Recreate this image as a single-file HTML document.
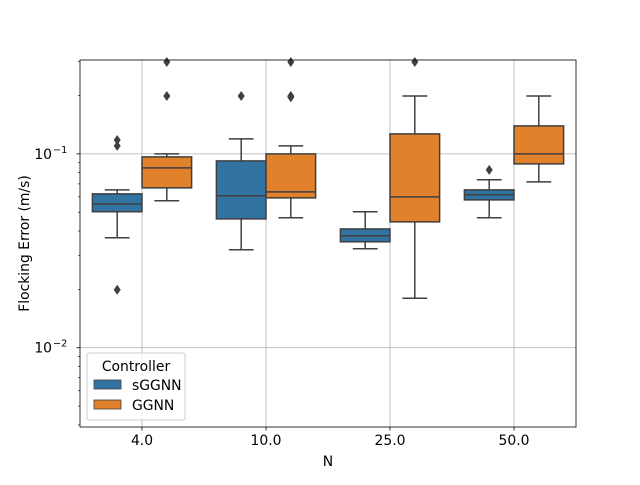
<!DOCTYPE html>
<html><head><meta charset="utf-8"><style>
body{margin:0;background:#fff}
svg{font-family:"DejaVu Sans","Liberation Sans",sans-serif}
</style></head><body>
<svg id="c" width="640" height="480" viewBox="0 0 640 480"></svg>
<script>
const categories=["4.0","10.0","25.0","50.0"];
const seriesNames=["sGGNN","GGNN"];
const whiskerLow=[[0.0369,0.0573],[0.0320,0.0468],[0.0324,0.018],[0.0468,0.0717]];
const q1=[[0.0503,0.0668],[0.0462,0.0593],[0.0352,0.0446],[0.0579,0.0888]];
const medians=[[0.0552,0.0847],[0.0608,0.0637],[0.0378,0.060],[0.0615,0.1]];
const q3=[[0.0622,0.0965],[0.092,0.1],[0.041,0.1268],[0.0652,0.1394]];
const whiskerHigh=[[0.0652,0.1],[0.1195,0.11],[0.0503,0.199],[0.0735,0.199]];
const outliers=[[[0.118,0.110,0.0199],[0.298,0.199]],[[0.199],[0.298,0.199,0.196]],[[],[0.298]],[[0.0827],[]]];
const yTicks=[0.01,0.1];
const yTickLabels=["10","10"];
const colors=["#3274a1","#e1812c"];
const NS="http://www.w3.org/2000/svg";
const svg=document.getElementById('c');
const L=80,R=576,T=60,B=427;
const yMin=Math.log10(0.0039),yMax=Math.log10(0.305);
const y=v=>B-(Math.log10(v)-yMin)/(yMax-yMin)*(B-T);
const bw=(R-L)/categories.length;
const xc=i=>L+bw*(i+0.5);
function mk(t,a,p){const e=document.createElementNS(NS,t);for(const k in a)e.setAttribute(k,a[k]);(p||svg).appendChild(e);return e;}
categories.forEach((c,i)=>{const g=mk('line',{x1:xc(i),x2:xc(i),y1:T,y2:B,stroke:'#b0b0b0','stroke-width':0.8});

});
yTicks.forEach(v=>{const g=mk('line',{x1:L,x2:R,y1:y(v),y2:y(v),stroke:'#b0b0b0','stroke-width':0.8});

});
const boxW=bw*0.8/2;
categories.forEach((c,i)=>{seriesNames.forEach((s,j)=>{
 const x0=xc(i)-bw*0.4+j*boxW, cx=x0+boxW/2;
 const g=mk('g',{});
 
 
 const st={stroke:'#3f3f3f','stroke-width':1.5};
 mk('line',Object.assign({x1:cx,x2:cx,y1:y(q1[i][j]),y2:y(whiskerLow[i][j])},st),g);
 mk('line',Object.assign({x1:cx,x2:cx,y1:y(q3[i][j]),y2:y(whiskerHigh[i][j])},st),g);
 mk('line',Object.assign({x1:cx-boxW/4,x2:cx+boxW/4,y1:y(whiskerLow[i][j]),y2:y(whiskerLow[i][j])},st),g);
 mk('line',Object.assign({x1:cx-boxW/4,x2:cx+boxW/4,y1:y(whiskerHigh[i][j]),y2:y(whiskerHigh[i][j])},st),g);
 mk('rect',Object.assign({x:x0,y:y(q3[i][j]),width:boxW,height:y(q1[i][j])-y(q3[i][j]),fill:colors[j]},st),g);
 mk('line',Object.assign({x1:x0,x2:x0+boxW,y1:y(medians[i][j]),y2:y(medians[i][j])},st),g);
 outliers[i][j].forEach(v=>{const yy=y(v);mk('path',{d:`M${cx} ${yy-5}L${cx+3.5} ${yy}L${cx} ${yy+5}L${cx-3.5} ${yy}Z`,fill:'#3f3f3f'},g);});
});});
mk('rect',{x:L,y:T,width:R-L,height:B-T,fill:'none',stroke:'#000','stroke-width':0.8});
categories.forEach((c,i)=>{mk('line',{x1:xc(i),x2:xc(i),y1:B,y2:B+3.5,stroke:'#000','stroke-width':0.8});
const t=mk('text',{x:xc(i),y:B+18,'text-anchor':'middle','font-size':13.9});t.textContent=c;

});
for(let d=-3;d<=-1;d++)for(let m=1;m<10;m++){const v=m*Math.pow(10,d);if(v<0.0039||v>0.305)continue;
mk('line',{x1:L,x2:L-(m==1?3.5:2),y1:y(v),y2:y(v),stroke:'#000','stroke-width':m==1?0.8:0.6});}
yTicks.forEach((v,k)=>{const t=mk('text',{x:52,y:y(v)+5,'text-anchor':'end','font-size':13.9});t.textContent=yTickLabels[k];


const e=mk('text',{x:53,y:y(v)-1,'font-size':9.7});e.textContent='\u2212'+String(-Math.round(Math.log10(v)));});
let t=mk('text',{x:(L+R)/2,y:466,'text-anchor':'middle','font-size':13.9});t.textContent='N';

t=mk('text',{x:29,y:(T+B)/2,'text-anchor':'middle','font-size':13.9,transform:`rotate(-90 29 ${(T+B)/2})`});t.textContent='Flocking Error (m/s)';

const lg=mk('g',{});
mk('rect',{x:87,y:353,width:98,height:67,rx:2,fill:'#fff','fill-opacity':0.8,stroke:'#ccc'},lg);
t=mk('text',{x:136,y:371,'text-anchor':'middle','font-size':13.9},lg);t.textContent='Controller';
seriesNames.forEach((s,j)=>{const yy=380+j*20;
mk('rect',{x:94,y:yy,width:27,height:9,fill:colors[j],stroke:'#3f3f3f','stroke-width':0.8},lg);
const tt=mk('text',{x:132,y:yy+10,'font-size':13.9},lg);tt.textContent=s;
});
</script>
</body></html>
